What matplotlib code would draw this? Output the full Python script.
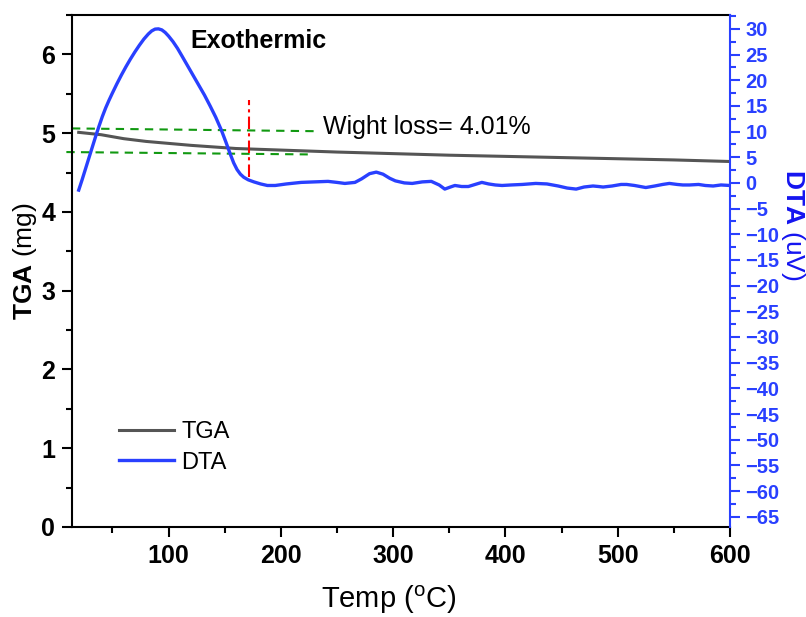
"""
TGA / DTA thermogram with weight-loss annotation
"""

import numpy as np
import matplotlib.pyplot as plt
from matplotlib.ticker import MultipleLocator

plt.rcParams['font.family'] = ['Liberation Sans', 'DejaVu Sans']
plt.rcParams['mathtext.fontset'] = 'custom'
plt.rcParams['mathtext.rm'] = 'Liberation Sans'
plt.rcParams['mathtext.bf'] = 'Liberation Sans:bold'

# TGA curve (mg)
temp_tga = [20, 40, 60, 80, 100, 120, 140, 160, 180, 200, 250, 300,
            350, 400, 450, 500, 550, 600]
tga_mg = [5.01, 4.98, 4.93, 4.895, 4.87, 4.845, 4.825, 4.805, 4.795, 4.785,
          4.76, 4.74, 4.72, 4.705, 4.69, 4.675, 4.66, 4.64]

# DTA curve (uV)
temp_dta = [20, 23, 26, 29, 32, 35, 38, 41, 44, 47, 50, 54, 58, 62, 66, 70,
            74, 78, 82, 85, 88, 91, 94, 97, 100, 104, 108, 112, 117, 122, 127,
            132, 137, 142, 147, 151, 155, 158, 161, 164, 167, 171, 176, 182,
            188, 195, 205, 218, 230, 242, 250, 257, 266, 272, 279, 285, 291,
            297, 302, 310, 317, 326, 334, 341, 346, 351, 355, 361, 367, 373,
            379, 385, 391, 397, 405, 415, 427, 437, 447, 455, 463, 470, 478,
            483, 487, 495, 503, 508, 515, 525, 533, 540, 546, 553, 558, 564,
            572, 578, 585, 592, 600]
dta_uv = [-1.4, 0.6, 2.7, 4.8, 6.9, 9.0, 11.0, 12.9, 14.6, 16.1, 17.5, 19.3,
          21.0, 22.6, 24.1, 25.5, 26.8, 28.0, 29.0, 29.6, 29.95, 30.0, 29.8,
          29.3, 28.6, 27.5, 26.2, 24.7, 22.8, 20.9, 19.0, 17.1, 15.0, 12.8,
          10.3, 8.0, 5.6, 3.9, 2.6, 1.7, 1.1, 0.6, 0.2, -0.2, -0.5, -0.5,
          -0.2, 0.1, 0.2, 0.3, 0.1, -0.1, 0.1, 0.8, 1.8, 2.1, 1.7, 0.9, 0.4,
          0.0, -0.1, 0.2, 0.3, -0.4, -1.2, -0.8, -0.5, -0.7, -0.7, -0.3, 0.1,
          -0.2, -0.4, -0.5, -0.4, -0.3, -0.1, -0.2, -0.6, -1.0, -1.2, -0.8,
          -0.6, -0.7, -0.8, -0.6, -0.3, -0.3, -0.5, -0.9, -0.6, -0.3, -0.1,
          -0.3, -0.4, -0.4, -0.3, -0.5, -0.6, -0.4, -0.5]

# weight-loss guide lines
loss_upper_x = [14, 230]
loss_upper_y = [5.06, 5.025]
loss_lower_x = [9, 224]
loss_lower_y = [4.76, 4.73]
onset_x = [172, 172]
onset_y = [4.44, 5.42]

gray = '#555555'
blue = '#2940ff'
label_blue = '#1414f0'

fig = plt.figure(figsize=(8.06, 6.17), dpi=100)
ax = fig.add_axes([0.0893, 0.1459, 0.8164, 0.8298])
ax2 = ax.twinx()

l1, = ax.plot(temp_tga, tga_mg, color=gray, lw=2.2, label='TGA')
ax.plot(loss_upper_x, loss_upper_y, color='#119911', lw=1.5, ls=(0, (4, 3)), clip_on=False)
ax.plot(loss_lower_x, loss_lower_y, color='#119911', lw=1.5, ls=(0, (4, 3)), clip_on=False)
ax.plot(onset_x, onset_y, color='red', lw=1.5, ls=(0, (6, 2, 1.5, 2)))
l2, = ax2.plot(temp_dta, dta_uv, color=blue, lw=2.4, label='DTA')

ax.set_xlim(14, 600)
ax.set_ylim(0, 6.5)
ax2.set_ylim(-67, 32.7)

ax.xaxis.set_major_locator(MultipleLocator(100))
ax.xaxis.set_minor_locator(MultipleLocator(50))
ax.yaxis.set_major_locator(MultipleLocator(1))
ax.yaxis.set_minor_locator(MultipleLocator(0.5))
ax2.yaxis.set_major_locator(MultipleLocator(5))
ax2.yaxis.set_minor_locator(MultipleLocator(2.5))

for s in ['left', 'bottom', 'top']:
    ax.spines[s].set_linewidth(1.5)
ax2.spines['right'].set_color(blue)
ax2.spines['right'].set_linewidth(1.5)
for s in ['left', 'bottom', 'top']:
    ax2.spines[s].set_visible(False)
ax.spines['right'].set_visible(False)

ax.tick_params(axis='both', which='major', length=7, width=1.5, labelsize=18, pad=5)
ax.tick_params(axis='both', which='minor', length=4, width=1.5)
ax.tick_params(top=False, right=False)
ax2.tick_params(axis='y', which='major', length=7, width=1.5, colors=blue, labelsize=14.5, pad=4)
ax2.tick_params(axis='y', which='minor', length=4, width=1.5, colors=blue)
for t in ax.get_xticklabels() + ax.get_yticklabels():
    t.set_fontweight('bold')
for t in ax2.get_yticklabels():
    t.set_fontweight('bold')

ax.text(0.482, -0.143, r'Temp ($^{\mathrm{o}}$C)', transform=ax.transAxes,
        fontsize=21, ha='center', va='center')
ax.text(-0.072, 0.52, r'$\mathbf{TGA}$ (mg)', transform=ax.transAxes,
        fontsize=19, rotation=90, ha='center', va='center')
ax2.text(1.096, 0.59, r'$\mathbf{DTA}$ (uV)', transform=ax2.transAxes,
         fontsize=19, rotation=270, ha='center', va='center', color=label_blue)

ax.text(119.6, 6.075, 'Exothermic', fontsize=18, fontweight='bold', va='baseline')
ax.text(237.5, 4.983, 'Wight loss= 4.01%', fontsize=18, va='baseline')

ax.legend(handles=[l1, l2], loc='center left', bbox_to_anchor=(0.071, 0.155),
          frameon=False, fontsize=17, borderpad=0, borderaxespad=0,
          handlelength=2.35, handletextpad=0.3, labelspacing=0.35)

fig.savefig('out.png', dpi=100)
